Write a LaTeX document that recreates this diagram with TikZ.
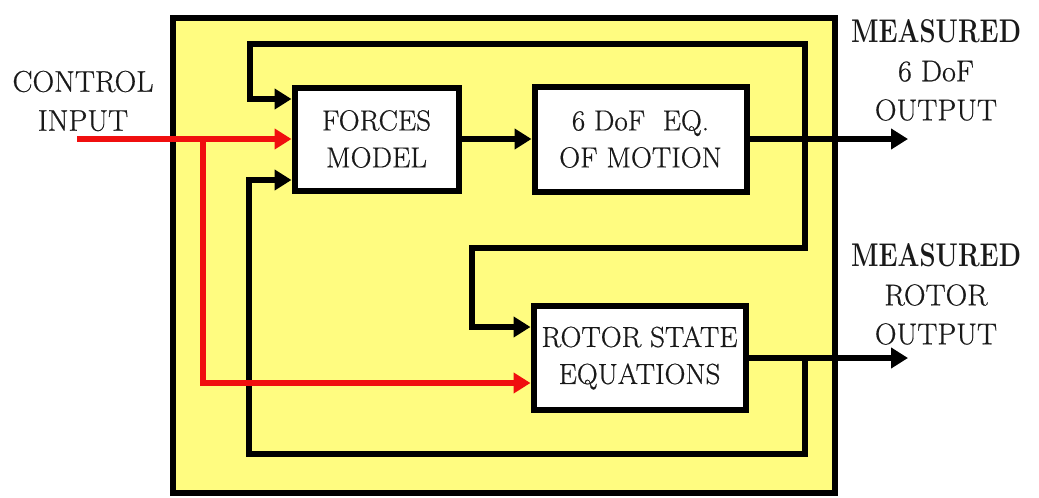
\documentclass[tikz,border=0pt]{standalone}
\usepackage{fontspec}
\setmainfont{Latin Modern Roman}
\newfontfamily\tnr[FakeBold=0.6]{Latin Modern Roman}
\newcommand\meas{\resizebox{170pt}{23pt}{\rmfamily\bfseries MEASURED}}
\usetikzlibrary{arrows.meta}
\definecolor{bgyellow}{RGB}{255,252,128}
\definecolor{txt}{RGB}{25,25,25}
\definecolor{wirered}{RGB}{240,15,15}
\begin{document}
\begin{tikzpicture}[x=1pt,y=-1pt,
  frame/.style={draw=black, line width=6pt, fill=bgyellow, inner sep=0pt},
  blockbox/.style={draw=black, line width=6pt, fill=white, align=center, text=txt,
    font=\tnr\fontsize{29}{37}\selectfont, inner sep=0pt},
  lbl/.style={align=center, text=txt, font=\tnr\fontsize{30}{39}\selectfont, inner sep=0pt},
  wire/.style={line width=6pt, draw=black},
  redwire/.style={line width=6pt, draw=wirered},
  tip/.style={-{Triangle[length=17pt,width=20pt]}}]
\useasboundingbox (0,0) rectangle (1039,498);
\fill[white] (0,0) rectangle (1039,498);
% outer frame
\node[frame, minimum width=662pt, minimum height=475pt] (outer) at (503.5,255) {};
% blocks
\node[blockbox, minimum width=164pt, minimum height=103pt] (forces) at (376.5,139) {FORCES\\MODEL};
\node[blockbox, minimum width=212pt, minimum height=105pt] (dof) at (640.5,139) {6 DoF\ \ EQ.\\OF MOTION};
\node[blockbox, minimum width=212pt, minimum height=104pt] (rotor) at (639.5,358) {ROTOR STATE\\EQUATIONS};
% labels
\node[lbl] (ctl) at (83,101) {CONTROL\\INPUT};
\node[lbl] (m1) at (936,70) {\meas\\6 DoF\\OUTPUT};
\node[lbl] (m2) at (936,294) {\meas\\ROTOR\\OUTPUT};
% coordinates
\coordinate (j1) at (805,139);
\coordinate (j2) at (805,358);
\coordinate (tl) at (250,44);
\coordinate (mid) at (472,248);
\coordinate (bl) at (249,454);
\coordinate (o1) at (908,139);
\coordinate (o2) at (908,358);
\coordinate (cin) at (77,139);
\coordinate (rb) at (203,139);
% black connectors
\draw[wire,tip] (forces.east) -- (dof.west);
\draw[wire,tip] (dof.east) -- (o1);
\draw[wire,tip] (rotor.east) -- (o2);
\draw[wire,tip] (j1) |- (tl) |- (forces.west |- 0,99);
\draw[wire,tip] (j1) |- (mid) |- (rotor.west |- 0,327);
\draw[wire,tip] (j2) |- (bl) |- (forces.west |- 0,180);
% red connectors
\draw[redwire,tip] (cin) -- (forces.west);
\draw[redwire,tip] (rb) |- (rotor.west |- 0,383);
\end{tikzpicture}
\end{document}
